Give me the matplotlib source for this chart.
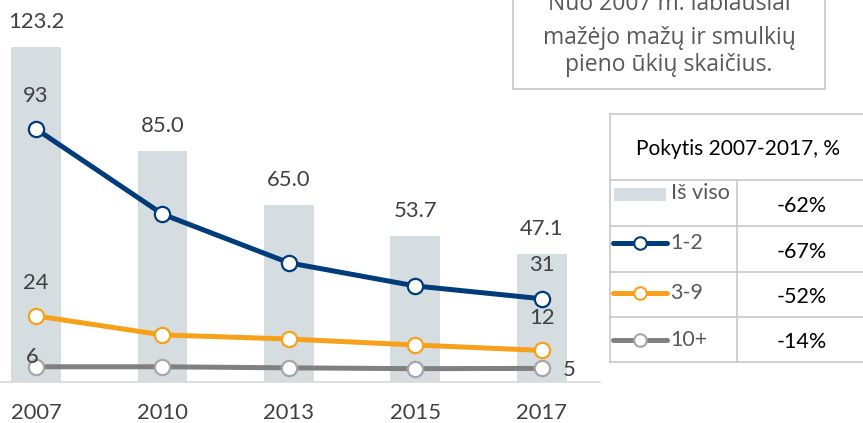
import matplotlib
matplotlib.use("Agg")
import matplotlib.pyplot as plt
from matplotlib.lines import Line2D
from matplotlib.patches import Rectangle

plt.rcParams['font.family'] = ['Lato', 'DejaVu Sans']

years = ['2007', '2010', '2013', '2015', '2017']
total = [123.2, 85.0, 65.0, 53.7, 47.1]
farms_1_2 = [93, 61.7, 43.8, 35.3, 30.6]
farms_3_9 = [24.3, 17.3, 15.8, 13.6, 11.6]
farms_10 = [5.6, 5.6, 5.2, 4.9, 5.0]
first_labels = ['93', '24', '6']
last_labels = ['31', '12', '5']
legend_names = ['Iš viso', '1-2', '3-9', '10+']
changes = ['-62%', '-67%', '-52%', '-14%']
note_lines = ['Nuo 2007 m. labiausiai', 'mažėjo mažų ir smulkių', 'pieno ūkių skaičius.']

bar_col = '#d5dde0'
navy = '#003b7a'
orange = '#f7a11a'
grey = '#808080'
txt = '#404040'
W, H = 863, 423
fs = 15.8

fig = plt.figure(figsize=(W / 100, H / 100), dpi=100)
ax = fig.add_axes([0, 41 / H, 600 / W, 382 / H])
x = list(range(len(years)))

ax.bar(x, total, width=0.395, color=bar_col, zorder=1)
series = [(farms_1_2, navy, navy), (farms_3_9, orange, orange), (farms_10, grey, '#a6a6a6')]
for vals, col, edge in series:
    ax.plot(x, vals, color=col, lw=3.6, zorder=3, marker='o', ms=11,
            mfc='white', mec=edge, mew=1.6, solid_capstyle='round')

ax.set_xlim(-0.285, 4.46)
ax.set_ylim(0, 140.4)
for s in ['top', 'right', 'left']:
    ax.spines[s].set_visible(False)
ax.spines['bottom'].set_color('#d9d9d9')
ax.spines['bottom'].set_linewidth(1.2)
ax.set_yticks([])
ax.set_xticks(x)
ax.set_xticklabels(years, fontsize=fs, color=txt)
ax.tick_params(axis='x', length=0, pad=15)

for i, v in enumerate(total):
    ax.annotate('{:.1f}'.format(v), (i, v), xytext=(0, 18), textcoords='offset points',
                ha='center', va='center', fontsize=fs, color=txt)

# labels for first and last points of each line
ax.annotate(first_labels[0], (0, farms_1_2[0]), xytext=(0, 24), textcoords='offset points',
            ha='center', va='center', fontsize=fs, color=txt, zorder=5)
ax.annotate(first_labels[1], (0, farms_3_9[0]), xytext=(0, 24), textcoords='offset points',
            ha='center', va='center', fontsize=fs, color=txt, zorder=5)
ax.annotate(first_labels[2], (0, farms_10[0]), xytext=(-3, 7), textcoords='offset points',
            ha='center', va='center', fontsize=fs, color=txt, zorder=5)
ax.annotate(last_labels[0], (4, farms_1_2[4]), xytext=(0, 24), textcoords='offset points',
            ha='center', va='center', fontsize=fs, color=txt, zorder=5)
ax.annotate(last_labels[1], (4, farms_3_9[4]), xytext=(0, 23), textcoords='offset points',
            ha='center', va='center', fontsize=fs, color=txt, zorder=5)
ax.annotate(last_labels[2], (4, farms_10[4]), xytext=(20, -1), textcoords='offset points',
            ha='center', va='center', fontsize=fs, color=txt, zorder=5)

# overlay in pixel coords for note box and table
ov = fig.add_axes([0, 0, 1, 1], zorder=10)
ov.set_xlim(0, W)
ov.set_ylim(H, 0)
ov.axis('off')
ov.patch.set_alpha(0)

ov.add_patch(Rectangle((513, -10), 312, 99, fill=False, ec='#c8c8c8', lw=1.2))
for yy, line in zip([4, 38, 65], note_lines):
    ov.text(669, yy, line, ha='center', va='center', fontsize=16.5, color='#595959',
            family=['Open Sans', 'DejaVu Sans'])

lc = '#c8c8c8'
ov.plot([610, 610], [114, 362], color=lc, lw=1.2)
for yy in [114, 180, 226, 272, 317, 362]:
    ov.plot([610, 870], [yy, yy], color=lc, lw=1.2)
ov.plot([737, 737], [180, 362], color=lc, lw=1.2)
ov.text(738, 149, 'Pokytis 2007-2017, %', ha='center', va='center', fontsize=15, color='black')

ov.add_patch(Rectangle((614, 188), 52, 13, color=bar_col, lw=0))
ov.text(671, 193, legend_names[0], ha='left', va='center', fontsize=15.5, color='#595959')
row_y = [243, 293, 340]
for (vals, col, edge), yy, name in zip(series, row_y, legend_names[1:]):
    ov.add_line(Line2D([613, 667], [yy, yy], color=col, lw=3.6, solid_capstyle='round'))
    ov.add_line(Line2D([640], [yy], marker='o', ms=9, mfc='white', mec=edge, mew=1.5))
    ov.text(670, yy, name, ha='left', va='center', fontsize=15.5, color='#595959')

for yy, c in zip([206, 252, 297, 342], changes):
    ov.text(802, yy, c, ha='center', va='center', fontsize=15.5, color='black')

fig.savefig('out.png', dpi=100)
